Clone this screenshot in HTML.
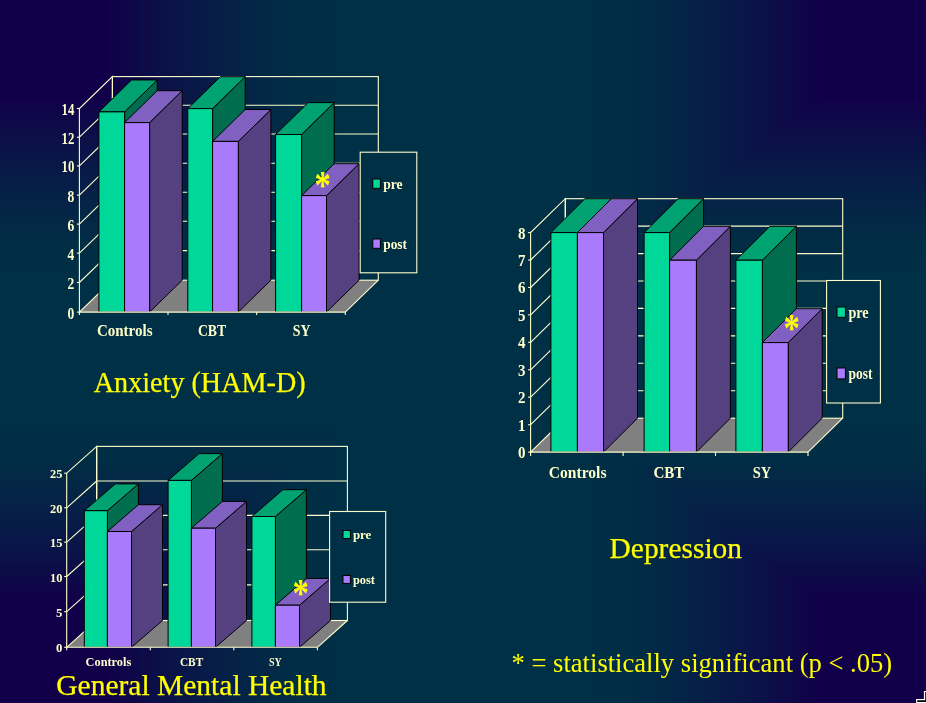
<!DOCTYPE html>
<html><head><meta charset="utf-8"><title>Results</title>
<style>
html,body{margin:0;padding:0;background:#00304a;}
body{width:926px;height:703px;overflow:hidden;position:relative;}
svg{position:absolute;left:0;top:0;display:block;font-family:"Liberation Serif",serif;}
</style></head><body>
<svg width="926" height="703" viewBox="0 0 926 703">
<defs>
<linearGradient id="gh" gradientUnits="userSpaceOnUse" x1="0" y1="0" x2="926" y2="0"><stop offset="0.0000" stop-color="#110049"/><stop offset="0.1145" stop-color="#110049"/><stop offset="0.1728" stop-color="#0B1048"/><stop offset="0.2214" stop-color="#071B47"/><stop offset="0.2700" stop-color="#042546"/><stop offset="0.3186" stop-color="#012D45"/><stop offset="0.3672" stop-color="#003045"/><stop offset="0.6328" stop-color="#003045"/><stop offset="0.6814" stop-color="#012D45"/><stop offset="0.7300" stop-color="#042546"/><stop offset="0.7786" stop-color="#071B47"/><stop offset="0.8272" stop-color="#0B1048"/><stop offset="0.8855" stop-color="#110049"/><stop offset="1.0000" stop-color="#110049"/></linearGradient>
<linearGradient id="gv" gradientUnits="userSpaceOnUse" x1="0" y1="0" x2="0" y2="703"><stop offset="0.0000" stop-color="#110049"/><stop offset="0.1415" stop-color="#110049"/><stop offset="0.1998" stop-color="#0B1048"/><stop offset="0.2484" stop-color="#071B47"/><stop offset="0.2969" stop-color="#042546"/><stop offset="0.3455" stop-color="#012D45"/><stop offset="0.3941" stop-color="#003045"/><stop offset="0.6030" stop-color="#003045"/><stop offset="0.6516" stop-color="#012D45"/><stop offset="0.7002" stop-color="#042546"/><stop offset="0.7488" stop-color="#071B47"/><stop offset="0.7974" stop-color="#0B1048"/><stop offset="0.8557" stop-color="#110049"/><stop offset="1.0000" stop-color="#110049"/></linearGradient>
</defs>
<rect x="0" y="0" width="926" height="703" fill="url(#gh)"/>
<polygon points="0,19 400,322.6 400,378.4 0,682" fill="url(#gv)"/>
<polygon points="926,19 526,322.6 526,378.4 926,682" fill="url(#gv)"/>
<polygon points="79.4,312.1 112.4,280.2 378.3,280.2 345.3,312.1" fill="#808080" stroke="none" stroke-width="0" stroke-linejoin="round"/>
<line x1="345.3" y1="312.1" x2="378.3" y2="280.2" stroke="#FFFFCC" stroke-width="1.1"/>
<g fill="none" stroke="#FFFFCC" stroke-width="1.1">
<rect x="112.4" y="76.6" width="265.9" height="203.6"/>
<polygon points="79.4,312.1 79.4,108.5 112.4,76.6 112.4,280.2"/>
</g>
<line x1="76.9" y1="312.1" x2="79.4" y2="312.1" stroke="#FFFFCC" stroke-width="1.1"/>
<line x1="79.4" y1="282.5" x2="112.4" y2="250.6" stroke="#FFFFCC" stroke-width="1.1"/>
<line x1="112.4" y1="250.6" x2="378.3" y2="250.6" stroke="#FFFFCC" stroke-width="1.1"/>
<line x1="76.9" y1="282.5" x2="79.4" y2="282.5" stroke="#FFFFCC" stroke-width="1.1"/>
<line x1="79.4" y1="253.1" x2="112.4" y2="221.2" stroke="#FFFFCC" stroke-width="1.1"/>
<line x1="112.4" y1="221.2" x2="378.3" y2="221.2" stroke="#FFFFCC" stroke-width="1.1"/>
<line x1="76.9" y1="253.1" x2="79.4" y2="253.1" stroke="#FFFFCC" stroke-width="1.1"/>
<line x1="79.4" y1="224.1" x2="112.4" y2="192.2" stroke="#FFFFCC" stroke-width="1.1"/>
<line x1="112.4" y1="192.2" x2="378.3" y2="192.2" stroke="#FFFFCC" stroke-width="1.1"/>
<line x1="76.9" y1="224.1" x2="79.4" y2="224.1" stroke="#FFFFCC" stroke-width="1.1"/>
<line x1="79.4" y1="195.1" x2="112.4" y2="163.2" stroke="#FFFFCC" stroke-width="1.1"/>
<line x1="112.4" y1="163.2" x2="378.3" y2="163.2" stroke="#FFFFCC" stroke-width="1.1"/>
<line x1="76.9" y1="195.1" x2="79.4" y2="195.1" stroke="#FFFFCC" stroke-width="1.1"/>
<line x1="79.4" y1="165.9" x2="112.4" y2="134.0" stroke="#FFFFCC" stroke-width="1.1"/>
<line x1="112.4" y1="134.0" x2="378.3" y2="134.0" stroke="#FFFFCC" stroke-width="1.1"/>
<line x1="76.9" y1="165.9" x2="79.4" y2="165.9" stroke="#FFFFCC" stroke-width="1.1"/>
<line x1="79.4" y1="137.2" x2="112.4" y2="105.3" stroke="#FFFFCC" stroke-width="1.1"/>
<line x1="112.4" y1="105.3" x2="378.3" y2="105.3" stroke="#FFFFCC" stroke-width="1.1"/>
<line x1="76.9" y1="137.2" x2="79.4" y2="137.2" stroke="#FFFFCC" stroke-width="1.1"/>
<line x1="76.9" y1="108.5" x2="79.4" y2="108.5" stroke="#FFFFCC" stroke-width="1.1"/>
<line x1="79.4" y1="312.1" x2="79.4" y2="315.1" stroke="#FFFFCC" stroke-width="1.1"/>
<line x1="168.0" y1="312.1" x2="168.0" y2="315.1" stroke="#FFFFCC" stroke-width="1.1"/>
<line x1="256.7" y1="312.1" x2="256.7" y2="315.1" stroke="#FFFFCC" stroke-width="1.1"/>
<line x1="345.3" y1="312.1" x2="345.3" y2="315.1" stroke="#FFFFCC" stroke-width="1.1"/>
<polygon points="124.6,312.1 157.2,280.2 157.2,80.0 124.6,111.9" fill="#006E4E" stroke="#000" stroke-width="1" stroke-linejoin="round"/>
<polygon points="98.9,111.9 131.5,80.0 157.2,80.0 124.6,111.9" fill="#00A272" stroke="#000" stroke-width="1" stroke-linejoin="round"/>
<polygon points="98.9,312.1 98.9,111.9 124.6,111.9 124.6,312.1" fill="#00D89A" stroke="#000" stroke-width="1" stroke-linejoin="round"/>
<polygon points="149.6,312.1 182.2,280.2 182.2,90.7 149.6,122.6" fill="#554080" stroke="#000" stroke-width="1" stroke-linejoin="round"/>
<polygon points="124.6,122.6 157.2,90.7 182.2,90.7 149.6,122.6" fill="#8060C0" stroke="#000" stroke-width="1" stroke-linejoin="round"/>
<polygon points="124.6,312.1 124.6,122.6 149.6,122.6 149.6,312.1" fill="#AA7AFC" stroke="#000" stroke-width="1" stroke-linejoin="round"/>
<polygon points="212.6,312.1 245.2,280.2 245.2,76.7 212.6,108.6" fill="#006E4E" stroke="#000" stroke-width="1" stroke-linejoin="round"/>
<polygon points="187.8,108.6 220.4,76.7 245.2,76.7 212.6,108.6" fill="#00A272" stroke="#000" stroke-width="1" stroke-linejoin="round"/>
<polygon points="187.8,312.1 187.8,108.6 212.6,108.6 212.6,312.1" fill="#00D89A" stroke="#000" stroke-width="1" stroke-linejoin="round"/>
<polygon points="238.3,312.1 270.9,280.2 270.9,109.5 238.3,141.4" fill="#554080" stroke="#000" stroke-width="1" stroke-linejoin="round"/>
<polygon points="212.6,141.4 245.2,109.5 270.9,109.5 238.3,141.4" fill="#8060C0" stroke="#000" stroke-width="1" stroke-linejoin="round"/>
<polygon points="212.6,312.1 212.6,141.4 238.3,141.4 238.3,312.1" fill="#AA7AFC" stroke="#000" stroke-width="1" stroke-linejoin="round"/>
<polygon points="301.6,312.1 334.2,280.2 334.2,102.6 301.6,134.5" fill="#006E4E" stroke="#000" stroke-width="1" stroke-linejoin="round"/>
<polygon points="275.6,134.5 308.2,102.6 334.2,102.6 301.6,134.5" fill="#00A272" stroke="#000" stroke-width="1" stroke-linejoin="round"/>
<polygon points="275.6,312.1 275.6,134.5 301.6,134.5 301.6,312.1" fill="#00D89A" stroke="#000" stroke-width="1" stroke-linejoin="round"/>
<polygon points="326.5,312.1 359.1,280.2 359.1,163.7 326.5,195.6" fill="#554080" stroke="#000" stroke-width="1" stroke-linejoin="round"/>
<polygon points="301.6,195.6 334.2,163.7 359.1,163.7 326.5,195.6" fill="#8060C0" stroke="#000" stroke-width="1" stroke-linejoin="round"/>
<polygon points="301.6,312.1 301.6,195.6 326.5,195.6 326.5,312.1" fill="#AA7AFC" stroke="#000" stroke-width="1" stroke-linejoin="round"/>
<line x1="79.4" y1="312.1" x2="345.3" y2="312.1" stroke="#FFFFCC" stroke-width="1.1"/>
<rect x="360.2" y="152.2" width="56.6" height="120.6" fill="#003045" stroke="#FFFFCC" stroke-width="1.1"/>
<rect x="372.8" y="179" width="7.6" height="9.3" fill="#00D89A" stroke="#000" stroke-width="1"/>
<rect x="372.8" y="239" width="7.6" height="9.3" fill="#AA7AFC" stroke="#000" stroke-width="1"/>
<text x="383.2" y="189.0" font-size="15" font-weight="bold" fill="#FFFFCC" textLength="19.4" lengthAdjust="spacingAndGlyphs">pre</text>
<text x="383.2" y="248.7" font-size="15" font-weight="bold" fill="#FFFFCC" textLength="23.8" lengthAdjust="spacingAndGlyphs">post</text>
<text x="96.9" y="335.7" font-size="17" font-weight="bold" fill="#FFFFCC" textLength="55.6" lengthAdjust="spacingAndGlyphs">Controls</text>
<text x="197.9" y="335.7" font-size="17" font-weight="bold" fill="#FFFFCC" textLength="28.3" lengthAdjust="spacingAndGlyphs">CBT</text>
<text x="292.7" y="335.7" font-size="17" font-weight="bold" fill="#FFFFCC" textLength="17.7" lengthAdjust="spacingAndGlyphs">SY</text>
<text x="67.6" y="318.5" font-size="16.4" font-weight="bold" fill="#FFFFCC" textLength="6.8" lengthAdjust="spacingAndGlyphs">0</text>
<text x="67.6" y="288.9" font-size="16.4" font-weight="bold" fill="#FFFFCC" textLength="6.8" lengthAdjust="spacingAndGlyphs">2</text>
<text x="67.6" y="259.5" font-size="16.4" font-weight="bold" fill="#FFFFCC" textLength="6.8" lengthAdjust="spacingAndGlyphs">4</text>
<text x="67.6" y="230.5" font-size="16.4" font-weight="bold" fill="#FFFFCC" textLength="6.8" lengthAdjust="spacingAndGlyphs">6</text>
<text x="67.6" y="201.5" font-size="16.4" font-weight="bold" fill="#FFFFCC" textLength="6.8" lengthAdjust="spacingAndGlyphs">8</text>
<text x="61.6" y="172.3" font-size="16.4" font-weight="bold" fill="#FFFFCC" textLength="12.8" lengthAdjust="spacingAndGlyphs">10</text>
<text x="61.6" y="143.6" font-size="16.4" font-weight="bold" fill="#FFFFCC" textLength="12.8" lengthAdjust="spacingAndGlyphs">12</text>
<text x="61.6" y="114.9" font-size="16.4" font-weight="bold" fill="#FFFFCC" textLength="12.8" lengthAdjust="spacingAndGlyphs">14</text>
<polygon points="530.6,452.1 565.3,418.2 842.7,418.2 808.0,452.1" fill="#808080" stroke="none" stroke-width="0" stroke-linejoin="round"/>
<line x1="808.0" y1="452.1" x2="842.7" y2="418.2" stroke="#FFFFCC" stroke-width="1.1"/>
<g fill="none" stroke="#FFFFCC" stroke-width="1.1">
<rect x="565.3" y="198.7" width="277.4" height="219.5"/>
<polygon points="530.6,452.1 530.6,232.6 565.3,198.7 565.3,418.2"/>
</g>
<line x1="528.1" y1="452.1" x2="530.6" y2="452.1" stroke="#FFFFCC" stroke-width="1.1"/>
<line x1="530.6" y1="424.7" x2="565.3" y2="390.8" stroke="#FFFFCC" stroke-width="1.1"/>
<line x1="565.3" y1="390.8" x2="842.7" y2="390.8" stroke="#FFFFCC" stroke-width="1.1"/>
<line x1="528.1" y1="424.7" x2="530.6" y2="424.7" stroke="#FFFFCC" stroke-width="1.1"/>
<line x1="530.6" y1="397.2" x2="565.3" y2="363.3" stroke="#FFFFCC" stroke-width="1.1"/>
<line x1="565.3" y1="363.3" x2="842.7" y2="363.3" stroke="#FFFFCC" stroke-width="1.1"/>
<line x1="528.1" y1="397.2" x2="530.6" y2="397.2" stroke="#FFFFCC" stroke-width="1.1"/>
<line x1="530.6" y1="369.8" x2="565.3" y2="335.9" stroke="#FFFFCC" stroke-width="1.1"/>
<line x1="565.3" y1="335.9" x2="842.7" y2="335.9" stroke="#FFFFCC" stroke-width="1.1"/>
<line x1="528.1" y1="369.8" x2="530.6" y2="369.8" stroke="#FFFFCC" stroke-width="1.1"/>
<line x1="530.6" y1="342.3" x2="565.3" y2="308.4" stroke="#FFFFCC" stroke-width="1.1"/>
<line x1="565.3" y1="308.4" x2="842.7" y2="308.4" stroke="#FFFFCC" stroke-width="1.1"/>
<line x1="528.1" y1="342.3" x2="530.6" y2="342.3" stroke="#FFFFCC" stroke-width="1.1"/>
<line x1="530.6" y1="314.9" x2="565.3" y2="281.0" stroke="#FFFFCC" stroke-width="1.1"/>
<line x1="565.3" y1="281.0" x2="842.7" y2="281.0" stroke="#FFFFCC" stroke-width="1.1"/>
<line x1="528.1" y1="314.9" x2="530.6" y2="314.9" stroke="#FFFFCC" stroke-width="1.1"/>
<line x1="530.6" y1="287.5" x2="565.3" y2="253.6" stroke="#FFFFCC" stroke-width="1.1"/>
<line x1="565.3" y1="253.6" x2="842.7" y2="253.6" stroke="#FFFFCC" stroke-width="1.1"/>
<line x1="528.1" y1="287.5" x2="530.6" y2="287.5" stroke="#FFFFCC" stroke-width="1.1"/>
<line x1="530.6" y1="260.0" x2="565.3" y2="226.1" stroke="#FFFFCC" stroke-width="1.1"/>
<line x1="565.3" y1="226.1" x2="842.7" y2="226.1" stroke="#FFFFCC" stroke-width="1.1"/>
<line x1="528.1" y1="260.0" x2="530.6" y2="260.0" stroke="#FFFFCC" stroke-width="1.1"/>
<line x1="528.1" y1="232.6" x2="530.6" y2="232.6" stroke="#FFFFCC" stroke-width="1.1"/>
<line x1="530.6" y1="452.1" x2="530.6" y2="456.0" stroke="#FFFFCC" stroke-width="1.1"/>
<line x1="623.1" y1="452.1" x2="623.1" y2="456.0" stroke="#FFFFCC" stroke-width="1.1"/>
<line x1="715.5" y1="452.1" x2="715.5" y2="456.0" stroke="#FFFFCC" stroke-width="1.1"/>
<line x1="808.0" y1="452.1" x2="808.0" y2="456.0" stroke="#FFFFCC" stroke-width="1.1"/>
<polygon points="577.4,452.1 611.4,418.2 611.4,198.7 577.4,232.6" fill="#006E4E" stroke="#000" stroke-width="1" stroke-linejoin="round"/>
<polygon points="550.9,232.6 584.9,198.7 611.4,198.7 577.4,232.6" fill="#00A272" stroke="#000" stroke-width="1" stroke-linejoin="round"/>
<polygon points="550.9,452.1 550.9,232.6 577.4,232.6 577.4,452.1" fill="#00D89A" stroke="#000" stroke-width="1" stroke-linejoin="round"/>
<polygon points="603.5,452.1 637.5,418.2 637.5,198.7 603.5,232.6" fill="#554080" stroke="#000" stroke-width="1" stroke-linejoin="round"/>
<polygon points="577.4,232.6 611.4,198.7 637.5,198.7 603.5,232.6" fill="#8060C0" stroke="#000" stroke-width="1" stroke-linejoin="round"/>
<polygon points="577.4,452.1 577.4,232.6 603.5,232.6 603.5,452.1" fill="#AA7AFC" stroke="#000" stroke-width="1" stroke-linejoin="round"/>
<polygon points="669.6,452.1 703.6,418.2 703.6,198.7 669.6,232.6" fill="#006E4E" stroke="#000" stroke-width="1" stroke-linejoin="round"/>
<polygon points="644.1,232.6 678.1,198.7 703.6,198.7 669.6,232.6" fill="#00A272" stroke="#000" stroke-width="1" stroke-linejoin="round"/>
<polygon points="644.1,452.1 644.1,232.6 669.6,232.6 669.6,452.1" fill="#00D89A" stroke="#000" stroke-width="1" stroke-linejoin="round"/>
<polygon points="696.4,452.1 730.4,418.2 730.4,226.3 696.4,260.2" fill="#554080" stroke="#000" stroke-width="1" stroke-linejoin="round"/>
<polygon points="669.6,260.2 703.6,226.3 730.4,226.3 696.4,260.2" fill="#8060C0" stroke="#000" stroke-width="1" stroke-linejoin="round"/>
<polygon points="669.6,452.1 669.6,260.2 696.4,260.2 696.4,452.1" fill="#AA7AFC" stroke="#000" stroke-width="1" stroke-linejoin="round"/>
<polygon points="762.4,452.1 796.4,418.2 796.4,226.3 762.4,260.2" fill="#006E4E" stroke="#000" stroke-width="1" stroke-linejoin="round"/>
<polygon points="735.9,260.2 769.9,226.3 796.4,226.3 762.4,260.2" fill="#00A272" stroke="#000" stroke-width="1" stroke-linejoin="round"/>
<polygon points="735.9,452.1 735.9,260.2 762.4,260.2 762.4,452.1" fill="#00D89A" stroke="#000" stroke-width="1" stroke-linejoin="round"/>
<polygon points="788.2,452.1 822.2,418.2 822.2,308.7 788.2,342.6" fill="#554080" stroke="#000" stroke-width="1" stroke-linejoin="round"/>
<polygon points="762.4,342.6 796.4,308.7 822.2,308.7 788.2,342.6" fill="#8060C0" stroke="#000" stroke-width="1" stroke-linejoin="round"/>
<polygon points="762.4,452.1 762.4,342.6 788.2,342.6 788.2,452.1" fill="#AA7AFC" stroke="#000" stroke-width="1" stroke-linejoin="round"/>
<line x1="530.6" y1="452.1" x2="808.0" y2="452.1" stroke="#FFFFCC" stroke-width="1.1"/>
<rect x="826.6" y="280.5" width="53.8" height="122.5" fill="#003045" stroke="#FFFFCC" stroke-width="1.1"/>
<rect x="837" y="307" width="8.4" height="10.3" fill="#00D89A" stroke="#000" stroke-width="1"/>
<rect x="837" y="368" width="8.4" height="10.9" fill="#AA7AFC" stroke="#000" stroke-width="1"/>
<text x="848.4" y="317.8" font-size="16" font-weight="bold" fill="#FFFFCC" textLength="20.2" lengthAdjust="spacingAndGlyphs">pre</text>
<text x="848.4" y="379.4" font-size="16" font-weight="bold" fill="#FFFFCC" textLength="24.0" lengthAdjust="spacingAndGlyphs">post</text>
<text x="548.8" y="477.6" font-size="17.5" font-weight="bold" fill="#FFFFCC" textLength="57.7" lengthAdjust="spacingAndGlyphs">Controls</text>
<text x="653.4" y="477.6" font-size="17.5" font-weight="bold" fill="#FFFFCC" textLength="31.0" lengthAdjust="spacingAndGlyphs">CBT</text>
<text x="752.7" y="477.6" font-size="17.5" font-weight="bold" fill="#FFFFCC" textLength="18.5" lengthAdjust="spacingAndGlyphs">SY</text>
<text x="518.0" y="458.1" font-size="16.5" font-weight="bold" fill="#FFFFCC" textLength="7.5" lengthAdjust="spacingAndGlyphs">0</text>
<text x="518.0" y="430.7" font-size="16.5" font-weight="bold" fill="#FFFFCC" textLength="7.5" lengthAdjust="spacingAndGlyphs">1</text>
<text x="518.0" y="403.2" font-size="16.5" font-weight="bold" fill="#FFFFCC" textLength="7.5" lengthAdjust="spacingAndGlyphs">2</text>
<text x="518.0" y="375.8" font-size="16.5" font-weight="bold" fill="#FFFFCC" textLength="7.5" lengthAdjust="spacingAndGlyphs">3</text>
<text x="518.0" y="348.3" font-size="16.5" font-weight="bold" fill="#FFFFCC" textLength="7.5" lengthAdjust="spacingAndGlyphs">4</text>
<text x="518.0" y="320.9" font-size="16.5" font-weight="bold" fill="#FFFFCC" textLength="7.5" lengthAdjust="spacingAndGlyphs">5</text>
<text x="518.0" y="293.4" font-size="16.5" font-weight="bold" fill="#FFFFCC" textLength="7.5" lengthAdjust="spacingAndGlyphs">6</text>
<text x="518.0" y="266.0" font-size="16.5" font-weight="bold" fill="#FFFFCC" textLength="7.5" lengthAdjust="spacingAndGlyphs">7</text>
<text x="518.0" y="238.5" font-size="16.5" font-weight="bold" fill="#FFFFCC" textLength="7.5" lengthAdjust="spacingAndGlyphs">8</text>
<polygon points="66.7,647.3 96.7,620.5 347.4,620.5 317.4,647.3" fill="#808080" stroke="none" stroke-width="0" stroke-linejoin="round"/>
<line x1="317.4" y1="647.3" x2="347.4" y2="620.5" stroke="#FFFFCC" stroke-width="1.1"/>
<g fill="none" stroke="#FFFFCC" stroke-width="1.1">
<rect x="96.7" y="446.4" width="250.7" height="174.1"/>
<polygon points="66.7,647.3 66.7,473.2 96.7,446.4 96.7,620.5"/>
</g>
<line x1="64.2" y1="647.3" x2="66.7" y2="647.3" stroke="#FFFFCC" stroke-width="1.1"/>
<line x1="66.7" y1="611.7" x2="96.7" y2="584.9" stroke="#FFFFCC" stroke-width="1.1"/>
<line x1="96.7" y1="584.9" x2="347.4" y2="584.9" stroke="#FFFFCC" stroke-width="1.1"/>
<line x1="64.2" y1="611.7" x2="66.7" y2="611.7" stroke="#FFFFCC" stroke-width="1.1"/>
<line x1="66.7" y1="576.5" x2="96.7" y2="549.7" stroke="#FFFFCC" stroke-width="1.1"/>
<line x1="96.7" y1="549.7" x2="347.4" y2="549.7" stroke="#FFFFCC" stroke-width="1.1"/>
<line x1="64.2" y1="576.5" x2="66.7" y2="576.5" stroke="#FFFFCC" stroke-width="1.1"/>
<line x1="66.7" y1="542.2" x2="96.7" y2="515.4" stroke="#FFFFCC" stroke-width="1.1"/>
<line x1="96.7" y1="515.4" x2="347.4" y2="515.4" stroke="#FFFFCC" stroke-width="1.1"/>
<line x1="64.2" y1="542.2" x2="66.7" y2="542.2" stroke="#FFFFCC" stroke-width="1.1"/>
<line x1="66.7" y1="507.8" x2="96.7" y2="481.0" stroke="#FFFFCC" stroke-width="1.1"/>
<line x1="96.7" y1="481.0" x2="347.4" y2="481.0" stroke="#FFFFCC" stroke-width="1.1"/>
<line x1="64.2" y1="507.8" x2="66.7" y2="507.8" stroke="#FFFFCC" stroke-width="1.1"/>
<line x1="64.2" y1="473.2" x2="66.7" y2="473.2" stroke="#FFFFCC" stroke-width="1.1"/>
<line x1="66.7" y1="647.3" x2="66.7" y2="650.3" stroke="#FFFFCC" stroke-width="1.1"/>
<line x1="150.3" y1="647.3" x2="150.3" y2="650.3" stroke="#FFFFCC" stroke-width="1.1"/>
<line x1="233.8" y1="647.3" x2="233.8" y2="650.3" stroke="#FFFFCC" stroke-width="1.1"/>
<line x1="317.4" y1="647.3" x2="317.4" y2="650.3" stroke="#FFFFCC" stroke-width="1.1"/>
<polygon points="107.4,647.3 138.4,620.5 138.4,483.9 107.4,510.7" fill="#006E4E" stroke="#000" stroke-width="1" stroke-linejoin="round"/>
<polygon points="84.3,510.7 115.3,483.9 138.4,483.9 107.4,510.7" fill="#00A272" stroke="#000" stroke-width="1" stroke-linejoin="round"/>
<polygon points="84.3,647.3 84.3,510.7 107.4,510.7 107.4,647.3" fill="#00D89A" stroke="#000" stroke-width="1" stroke-linejoin="round"/>
<polygon points="131.5,647.3 162.5,620.5 162.5,504.7 131.5,531.5" fill="#554080" stroke="#000" stroke-width="1" stroke-linejoin="round"/>
<polygon points="107.4,531.5 138.4,504.7 162.5,504.7 131.5,531.5" fill="#8060C0" stroke="#000" stroke-width="1" stroke-linejoin="round"/>
<polygon points="107.4,647.3 107.4,531.5 131.5,531.5 131.5,647.3" fill="#AA7AFC" stroke="#000" stroke-width="1" stroke-linejoin="round"/>
<polygon points="191.4,647.3 222.4,620.5 222.4,453.6 191.4,480.4" fill="#006E4E" stroke="#000" stroke-width="1" stroke-linejoin="round"/>
<polygon points="168.1,480.4 199.1,453.6 222.4,453.6 191.4,480.4" fill="#00A272" stroke="#000" stroke-width="1" stroke-linejoin="round"/>
<polygon points="168.1,647.3 168.1,480.4 191.4,480.4 191.4,647.3" fill="#00D89A" stroke="#000" stroke-width="1" stroke-linejoin="round"/>
<polygon points="215.5,647.3 246.5,620.5 246.5,501.4 215.5,528.2" fill="#554080" stroke="#000" stroke-width="1" stroke-linejoin="round"/>
<polygon points="191.4,528.2 222.4,501.4 246.5,501.4 215.5,528.2" fill="#8060C0" stroke="#000" stroke-width="1" stroke-linejoin="round"/>
<polygon points="191.4,647.3 191.4,528.2 215.5,528.2 215.5,647.3" fill="#AA7AFC" stroke="#000" stroke-width="1" stroke-linejoin="round"/>
<polygon points="275.4,647.3 306.4,620.5 306.4,489.7 275.4,516.5" fill="#006E4E" stroke="#000" stroke-width="1" stroke-linejoin="round"/>
<polygon points="251.9,516.5 282.9,489.7 306.4,489.7 275.4,516.5" fill="#00A272" stroke="#000" stroke-width="1" stroke-linejoin="round"/>
<polygon points="251.9,647.3 251.9,516.5 275.4,516.5 275.4,647.3" fill="#00D89A" stroke="#000" stroke-width="1" stroke-linejoin="round"/>
<polygon points="299.5,647.3 330.5,620.5 330.5,578.4 299.5,605.2" fill="#554080" stroke="#000" stroke-width="1" stroke-linejoin="round"/>
<polygon points="275.4,605.2 306.4,578.4 330.5,578.4 299.5,605.2" fill="#8060C0" stroke="#000" stroke-width="1" stroke-linejoin="round"/>
<polygon points="275.4,647.3 275.4,605.2 299.5,605.2 299.5,647.3" fill="#AA7AFC" stroke="#000" stroke-width="1" stroke-linejoin="round"/>
<line x1="66.7" y1="647.3" x2="317.4" y2="647.3" stroke="#FFFFCC" stroke-width="1.1"/>
<rect x="329.6" y="511.5" width="56.1" height="90.7" fill="#003045" stroke="#FFFFCC" stroke-width="1.1"/>
<rect x="343" y="530.5" width="7.4" height="8.0" fill="#00D89A" stroke="#000" stroke-width="1"/>
<rect x="343" y="575.5" width="7.4" height="7.9" fill="#AA7AFC" stroke="#000" stroke-width="1"/>
<text x="352.9" y="539.0" font-size="13" font-weight="bold" fill="#FFFFCC" textLength="18.5" lengthAdjust="spacingAndGlyphs">pre</text>
<text x="352.9" y="584.1" font-size="13" font-weight="bold" fill="#FFFFCC" textLength="22.1" lengthAdjust="spacingAndGlyphs">post</text>
<text x="85.6" y="665.6" font-size="13" font-weight="bold" fill="#FFFFCC" textLength="45.6" lengthAdjust="spacingAndGlyphs">Controls</text>
<text x="179.9" y="665.6" font-size="13" font-weight="bold" fill="#FFFFCC" textLength="23.3" lengthAdjust="spacingAndGlyphs">CBT</text>
<text x="268.9" y="665.6" font-size="13" font-weight="bold" fill="#FFFFCC" textLength="12.8" lengthAdjust="spacingAndGlyphs">SY</text>
<text x="56.0" y="652.3" font-size="13.5" font-weight="bold" fill="#FFFFCC" textLength="6.4" lengthAdjust="spacingAndGlyphs">0</text>
<text x="56.0" y="616.7" font-size="13.5" font-weight="bold" fill="#FFFFCC" textLength="6.4" lengthAdjust="spacingAndGlyphs">5</text>
<text x="50.0" y="581.5" font-size="13.5" font-weight="bold" fill="#FFFFCC" textLength="12.4" lengthAdjust="spacingAndGlyphs">10</text>
<text x="50.0" y="547.2" font-size="13.5" font-weight="bold" fill="#FFFFCC" textLength="12.4" lengthAdjust="spacingAndGlyphs">15</text>
<text x="50.0" y="512.8" font-size="13.5" font-weight="bold" fill="#FFFFCC" textLength="12.4" lengthAdjust="spacingAndGlyphs">20</text>
<text x="50.0" y="478.2" font-size="13.5" font-weight="bold" fill="#FFFFCC" textLength="12.4" lengthAdjust="spacingAndGlyphs">25</text>
<text x="93.8" y="392.0" font-size="28.5" font-weight="normal" fill="#FFFF00" stroke="#FFFF00" stroke-width="0.25" textLength="211.8" lengthAdjust="spacingAndGlyphs">Anxiety (HAM-D)</text>
<text x="609.6" y="557.9" font-size="29" font-weight="normal" fill="#FFFF00" stroke="#FFFF00" stroke-width="0.25" textLength="132.4" lengthAdjust="spacingAndGlyphs">Depression</text>
<text x="56.3" y="695.2" font-size="29.5" font-weight="normal" fill="#FFFF00" stroke="#FFFF00" stroke-width="0.25" textLength="270.3" lengthAdjust="spacingAndGlyphs">General Mental Health</text>
<text x="511.5" y="671.8" font-size="26.5" font-weight="normal" fill="#FFFF00" textLength="380.7" lengthAdjust="spacingAndGlyphs">* = statistically significant (p &lt; .05)</text>
<text transform="translate(322.5,179.5) scale(1,1.24)" x="-8.01" y="15.21" font-size="32.7" font-weight="bold" fill="#FFFF00">*</text>
<text transform="translate(791.5,322.5) scale(1,1.24)" x="-8.01" y="15.21" font-size="32.7" font-weight="bold" fill="#FFFF00">*</text>
<text transform="translate(300.5,587.5) scale(1,1.24)" x="-8.01" y="15.21" font-size="32.7" font-weight="bold" fill="#FFFF00">*</text>
<polygon points="923.9,690.9 926,690.9 926,703 916.1,703 916.1,699 923.9,699" fill="#fff"/><polygon points="925.2,691.9 926,691.9 926,702.1 917.2,702.1 917.2,700.2 925.2,700.2" fill="#000"/>
</svg>
</body></html>
